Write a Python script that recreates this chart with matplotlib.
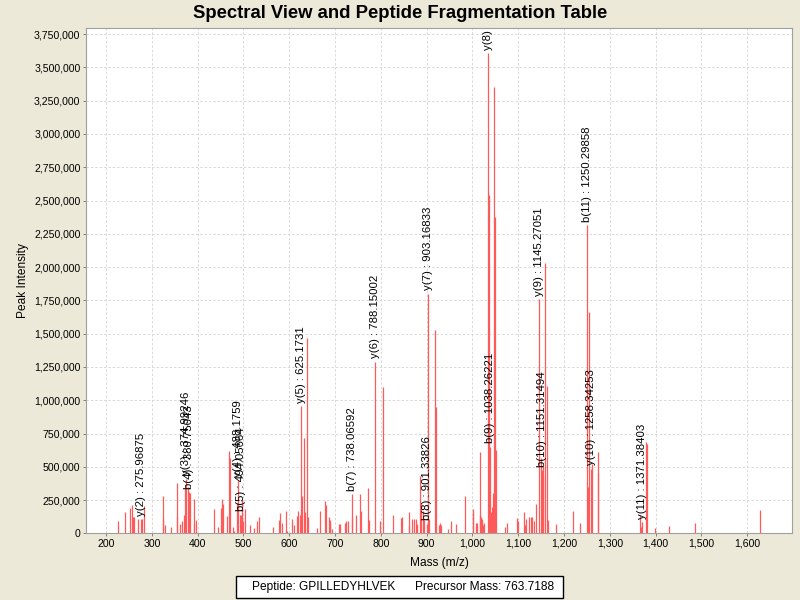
import matplotlib
matplotlib.use("Agg")
import matplotlib.pyplot as plt
from matplotlib.ticker import FuncFormatter, MultipleLocator
from matplotlib.patches import Rectangle
from matplotlib.transforms import offset_copy

plt.rcParams['font.family'] = ['Liberation Sans', 'DejaVu Sans']

# peak list (m/z, intensity)
peak_mz = [225.5, 241.5, 252, 256, 259.7, 261, 270.6, 275.97, 278, 283.7,
           323.8, 325, 329.6, 341.3, 354.4, 355.8, 361.7, 366, 370.4, 373.3,
           374.99, 378.5, 380.75, 383.5, 390.8, 391.5, 396.6,
           436.6, 444, 450.6, 454, 455, 463.7, 467.3, 469.5, 478, 479,
           485.5, 488.18, 492.8, 494.06, 496.5, 500, 503.7, 514.6, 521.9,
           529, 534.3, 564, 576.5, 580, 583.8, 593.3, 596, 605.7, 611,
           616.6, 618.8, 622.4, 625.17, 628, 632.6, 634.5, 638.5, 640,
           660.3, 667.6, 679, 681, 685.7, 688, 690, 693, 707.6, 710,
           720.6, 723, 728, 736.6, 738.07, 745, 755, 757, 773, 775,
           788.15, 798.6, 803.7, 826.3, 844.5, 846, 860.5, 862, 868, 873,
           876, 879, 886, 887, 893, 895, 901.34, 903.17, 906, 918.8, 920,
           926, 929, 931, 946.5, 953, 964, 982.8, 1001, 1002, 1008.4,
           1010, 1015.7, 1017, 1019, 1021, 1024, 1025, 1033.4, 1035.3,
           1038.26, 1040, 1041, 1043, 1045, 1047.7, 1049, 1050.5, 1071.7,
           1075, 1097, 1099, 1113, 1114, 1118, 1124, 1128, 1131, 1134,
           1139.5, 1145.27, 1150, 1151.31, 1153.2, 1155, 1159, 1163, 1165,
           1183, 1219.6, 1234, 1250.3, 1252, 1253.8, 1258.34, 1261, 1273.5,
           1275, 1366.7, 1368, 1371.38, 1379.8, 1381.5, 1399.5, 1428.5,
           1486.9, 1628.9]
peak_int = [0.092, 0.158, 0.19, 0.21, 0.12, 0.12, 0.11, 0.108, 0.11, 0.205,
            0.28, 0.11, 0.06, 0.05, 0.125, 0.375, 0.07, 0.09, 0.14, 0.345,
            0.41, 0.345, 0.31, 0.30, 0.26, 0.08, 0.10,
            0.18, 0.05, 0.19, 0.255, 0.22, 0.13, 0.62, 0.57, 0.05, 0.02,
            0.225, 0.40, 0.14, 0.14, 0.25, 0.09, 0.18, 0.06, 0.04,
            0.09, 0.12, 0.05, 0.10, 0.155, 0.08, 0.165, 0.02, 0.11, 0.06,
            0.13, 0.165, 0.14, 0.955, 0.28, 0.72, 0.16, 1.47, 0.12,
            0.04, 0.165, 0.24, 0.21, 0.12, 0.10, 0.08, 0.03, 0.07, 0.07,
            0.08, 0.09, 0.09, 0.12, 0.295, 0.14, 0.295, 0.17, 0.34, 0.10,
            1.29, 0.09, 1.10, 0.14, 0.115, 0.12, 0.16, 0.06, 0.11, 0.11,
            0.11, 0.07, 0.43, 0.225, 0.165, 0.10, 0.072, 1.80, 0.11, 1.525, 0.95,
            0.06, 0.08, 0.06, 0.03, 0.09, 0.07, 0.28, 0.18, 0.16, 0.08,
            0.08, 0.14, 0.61, 0.12, 0.11, 0.06, 0.08, 3.607, 2.54,
            0.65, 0.16, 0.14, 0.20, 0.30, 3.35, 2.38, 0.625, 0.05,
            0.08, 0.115, 0.09, 0.16, 0.06, 0.11, 0.12, 0.125, 0.12, 0.09,
            0.22, 1.76, 0.57, 0.476, 0.50, 0.44, 2.03, 1.11, 0.10,
            0.07, 0.165, 0.075, 2.315, 0.35, 1.665, 0.485, 0.52, 0.61,
            0.45, 0.14, 0.05, 0.085, 0.69, 0.67, 0.04, 0.055,
            0.08, 0.175]
peak_int = [v * 1e6 for v in peak_int]

# annotated fragment ions
ion_names = ["y(2)", "y(3)", "b(4)", "y(4)", "b(5)", "y(5)", "b(7)", "y(6)",
             "b(8)", "y(7)", "y(8)", "b(9)", "y(9)", "b(10)", "b(11)",
             "y(10)", "y(11)"]
ion_mz = [275.96875, 374.99246, 380.75043, 488.1759, 494.05664, 625.1731,
          738.06592, 788.15002, 901.33826, 903.16833, 1033.40112, 1038.26221,
          1145.27051, 1151.31494, 1250.29858, 1258.34253, 1371.38403]
ion_int = [0.108, 0.41, 0.31, 0.40, 0.14, 0.955, 0.295, 1.29, 0.072, 1.80,
           3.607, 0.65, 1.76, 0.476, 2.315, 0.485, 0.085]
ion_int = [v * 1e6 for v in ion_int]

peptide = "GPILLEDYHLVEK"
precursor = "763.7188"

bg = "#ece9d8"
fig = plt.figure(figsize=(8, 6), dpi=100, facecolor=bg)
ax = fig.add_axes([0.1075, 0.111, 0.8825, 0.8417])
ax.set_facecolor("white")

ax.vlines(peak_mz, 0, peak_int, colors="#ff5a5a", linewidth=0.9, zorder=3)

# labels sit just above their peak, clipped to the plot area
lift = offset_copy(ax.transData, fig=fig, x=0, y=2.5, units="points")
for name, m, i in zip(ion_names, ion_mz, ion_int):
    ax.text(m, i, f"{name} : {m}", transform=lift, rotation=90,
            ha="center", va="bottom", fontsize=8.2, clip_on=True, zorder=4)

ax.set_xlim(156, 1698)
ax.set_ylim(0, 3.793e6)
ax.xaxis.set_major_locator(MultipleLocator(100))
ax.yaxis.set_major_locator(MultipleLocator(250000))
ax.xaxis.set_major_formatter(FuncFormatter(lambda x, p: f"{x:,.0f}"))
ax.yaxis.set_major_formatter(FuncFormatter(lambda y, p: f"{y:,.0f}"))

ax.grid(True, color="#d9d9d9", linestyle=(0, (2.5, 2)), linewidth=0.7, zorder=0)
ax.set_axisbelow(True)
for s in ax.spines.values():
    s.set_color("#a0a0a0")
ax.tick_params(length=2, width=0.7, color="#808080", labelsize=7.6, pad=2)

ax.set_xlabel("Mass (m/z)", fontsize=8.6, labelpad=6)
ax.set_ylabel("Peak Intensity", fontsize=8.6, labelpad=4)
fig.text(0.5, 1 - 13 / 600, "Spectral View and Peptide Fragmentation Table",
         fontsize=13.3, fontweight="bold", ha="center", va="center")

fig.patches.append(Rectangle((0.295, 0.0033), 0.40875, 0.0367,
                             transform=fig.transFigure, facecolor="white",
                             edgecolor="black", linewidth=1))
fig.text(0.315, 0.0217, f"Peptide: {peptide}", fontsize=8.6, va="center")
fig.text(0.519, 0.0217, f"Precursor Mass: {precursor}", fontsize=8.6, va="center")

fig.savefig("out.png", dpi=100, facecolor=bg)
